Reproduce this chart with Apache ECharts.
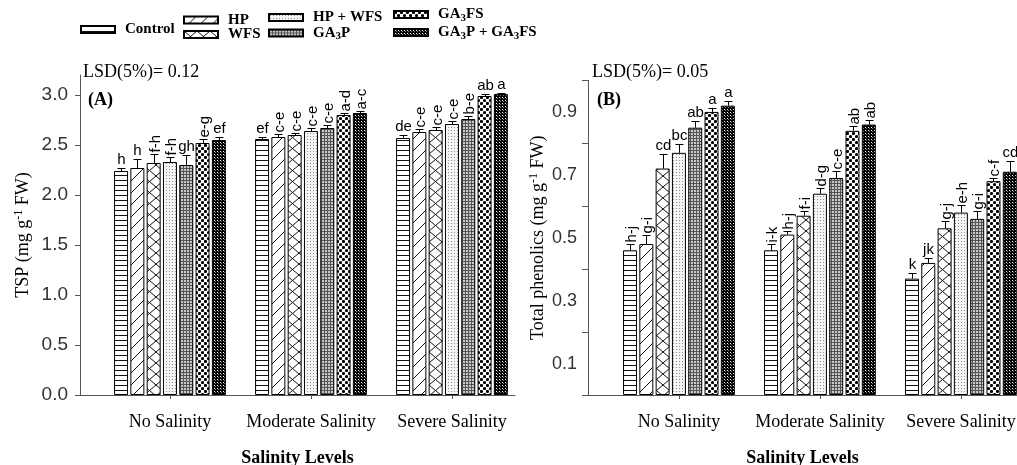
<!DOCTYPE html>
<html><head><meta charset="utf-8">
<script src="https://cdn.jsdelivr.net/npm/echarts@6/dist/echarts.min.js"></script>
<style>html,body{margin:0;padding:0;background:#fff}#c{width:1017px;height:465px}</style>
</head><body><div id="c"></div>
<script>
// ---------------- DATA ----------------
const categories = ['No Salinity', 'Moderate Salinity', 'Severe Salinity'];
const treatments = ['Control', 'HP', 'WFS', 'HP + WFS', 'GA3P', 'GA3FS', 'GA3P + GA3FS'];

// Panel A: TSP (mg g-1 FW); rows = treatments, columns = salinity levels
const tspMeans = [
  [2.24, 2.56, 2.57],
  [2.27, 2.58, 2.63],
  [2.32, 2.60, 2.65],
  [2.33, 2.64, 2.71],
  [2.30, 2.67, 2.76],
  [2.52, 2.80, 2.99],
  [2.55, 2.82, 3.01]
];
const tspErr = [
  [0.03, 0.02, 0.03],
  [0.09, 0.03, 0.03],
  [0.09, 0.02, 0.03],
  [0.05, 0.03, 0.03],
  [0.10, 0.03, 0.03],
  [0.04, 0.02, 0.02],
  [0.03, 0.02, 0.01]
];
const tspLetters = [
  ['h', 'ef', 'de'],
  ['h', 'c-e', 'c-e'],
  ['f-h', 'c-e', 'c-e'],
  ['f-h', 'c-e', 'c-e'],
  ['gh', 'c-e', 'b-e'],
  ['e-g', 'a-d', 'ab'],
  ['ef', 'a-c', 'a']
];

// Panel B: Total phenolics (mg g-1 FW)
const phenMeans = [
  [0.46, 0.46, 0.37],
  [0.48, 0.51, 0.42],
  [0.72, 0.57, 0.53],
  [0.77, 0.64, 0.58],
  [0.85, 0.69, 0.56],
  [0.90, 0.84, 0.68],
  [0.92, 0.86, 0.71]
];
const phenErr = [
  [0.02, 0.02, 0.017],
  [0.03, 0.012, 0.016],
  [0.045, 0.014, 0.023],
  [0.027, 0.018, 0.024],
  [0.021, 0.021, 0.024],
  [0.014, 0.015, 0.009],
  [0.014, 0.015, 0.035]
];
const phenLetters = [
  ['h-j', 'i-k', 'k'],
  ['g-i', 'h-j', 'jk'],
  ['cd', 'f-i', 'g-j'],
  ['bc', 'd-g', 'e-h'],
  ['ab', 'c-e', 'g-i'],
  ['a', 'ab', 'c-f'],
  ['a', 'ab', 'cd']
];

const tspTicks = [0, 0.5, 1.0, 1.5, 2.0, 2.5, 3.0];
const phenTicks = [0, 0.2, 0.4, 0.6, 0.8, 1.0];
const phenTickLabels = [0.1, 0.3, 0.5, 0.7, 0.9];

// ---------------- STYLE ----------------
const SERIF = "'Liberation Serif', 'Times New Roman', serif";
const SANS = "'Liberation Sans', Arial, sans-serif";
const BAR_W = 14, PITCH = 16.3, CAP = 4;
const vertical_extra = { 'B:1:5': true, 'B:1:6': true }; // panel:category:treatment labels drawn upright

function pattern(w, h, draw, bg) {
  const c = document.createElement('canvas');
  c.width = w; c.height = h;
  const g = c.getContext('2d');
  g.fillStyle = bg || '#fff'; g.fillRect(0, 0, w, h);
  draw(g, w, h);
  return { image: c, repeat: 'repeat' };
}
const fills = [
  pattern(4, 5, (g, w) => { g.fillStyle = '#111'; g.fillRect(0, 0, w, 1); }),
  pattern(12, 12, (g, w, h) => { g.strokeStyle = '#111'; g.lineWidth = 1;
    g.beginPath(); g.moveTo(-1, h + 1); g.lineTo(w + 1, -1); g.moveTo(-1, 1); g.lineTo(1, -1); g.moveTo(w - 1, h + 1); g.lineTo(w + 1, h - 1); g.stroke(); }),
  pattern(13, 11, (g, w, h) => { g.strokeStyle = '#111'; g.lineWidth = 1;
    g.beginPath(); g.moveTo(0, 0); g.lineTo(w, h); g.moveTo(w, 0); g.lineTo(0, h); g.stroke(); }),
  pattern(3, 3, (g) => { g.fillStyle = '#8a8a8a'; g.fillRect(1, 1, 1, 1); }, '#f4f4f4'),
  pattern(3, 3, (g) => { g.fillStyle = '#555'; g.fillRect(0, 0, 3, 1); g.fillRect(0, 0, 1, 3); }, '#c8c8c8'),
  pattern(6, 6, (g) => { g.fillStyle = '#000'; g.beginPath(); g.arc(1.5, 1.5, 1.6, 0, Math.PI * 2); g.arc(4.5, 4.5, 1.6, 0, Math.PI * 2); g.fill(); }),
  pattern(3, 3, (g) => { g.fillStyle = '#000'; g.fillRect(0, 0, 3, 3); g.fillStyle = '#fff'; g.fillRect(1, 1, 1, 1); g.fillStyle = '#777'; g.fillRect(2, 2, 1, 1); })
];

function richName(name) {
  return name.split('GA3').map((p, i) => (i ? '{n|GA}{s|3}' : '') + (p ? '{n|' + p + '}' : '')).join('');
}

function barSeries(means, gi) {
  return treatments.map((t, s) => ({
    name: t, type: 'bar', xAxisIndex: gi, yAxisIndex: gi,
    barWidth: BAR_W, barGap: ((PITCH - BAR_W) / BAR_W * 100) + '%',
    itemStyle: { color: fills[s], borderColor: '#000', borderWidth: 1 },
    data: categories.map((c, i) => [i + 1, means[s][i]]),
    animation: false
  }));
}

function errSeries(means, errs, letters, gi, key) {
  const data = [], labs = [];
  treatments.forEach((t, s) => categories.forEach((c, i) => {
    data.push([i + 1, means[s][i], errs[s][i], s, i]);
    labs.push(letters[s][i]);
  }));
  return {
    type: 'custom', xAxisIndex: gi, yAxisIndex: gi, z: 10, silent: true, animation: false,
    data,
    renderItem(params, api) {
      const x = api.value(0), m = api.value(1), e = api.value(2), s = api.value(3), i = api.value(4);
      const lab = labs[params.dataIndex];
      const b = api.coord([x, m]), t = api.coord([x, m + e]);
      const cx = Math.round(b[0] + (s - 3) * PITCH) + 0.5;
      const ty = Math.round(t[1]) + 0.5;
      const ch = [
        { type: 'line', shape: { x1: cx, y1: b[1], x2: cx, y2: ty }, style: { stroke: '#000', lineWidth: 1 } },
        { type: 'line', shape: { x1: cx - CAP, y1: ty, x2: cx + CAP, y2: ty }, style: { stroke: '#000', lineWidth: 1 } }
      ];
      const vert = lab.indexOf('-') >= 0 || vertical_extra[key + ':' + i + ':' + s];
      if (vert) {
        ch.push({ type: 'text', x: cx + 1, y: ty - 2, rotation: Math.PI / 2,
          style: { text: lab, align: 'left', verticalAlign: 'middle', fontFamily: SANS, fontSize: 15, fill: '#000' } });
      } else {
        ch.push({ type: 'text', x: cx, y: ty - 1,
          style: { text: lab, align: 'center', verticalAlign: 'bottom', fontFamily: SANS, fontSize: 15, fill: '#000' } });
      }
      return { type: 'group', children: ch };
    }
  };
}

const axisGray = '#555';
function xAx(gi, min, max) {
  return {
    gridIndex: gi, type: 'value', min, max,
    axisLine: { show: true, onZero: false, lineStyle: { color: axisGray, width: 1 } },
    splitLine: { show: false },
    axisTick: { show: true, customValues: [1, 2, 3], length: 4, lineStyle: { color: axisGray } },
    axisLabel: { customValues: [1, 2, 3], formatter: v => categories[Math.round(v) - 1] || '',
      fontFamily: SERIF, fontSize: 18, color: '#000', margin: 18 },
    name: 'Salinity Levels', nameLocation: 'middle', nameGap: 54,
    nameTextStyle: { fontFamily: SERIF, fontSize: 18, fontWeight: 'bold', color: '#000' }
  };
}
const nameRich = {
  t: { fontFamily: SERIF, fontSize: 18, color: '#000' },
  sup: { fontFamily: SERIF, fontSize: 12, color: '#000', verticalAlign: 'top', padding: [0, 0, 8, 0] }
};

const legendRich = {
  n: { fontFamily: SERIF, fontSize: 15, fontWeight: 'bold', color: '#000', lineHeight: 18 },
  s: { fontFamily: SERIF, fontSize: 11, fontWeight: 'bold', color: '#000', verticalAlign: 'bottom', lineHeight: 14, padding: [6, 0, 0, 0] }
};
const legendPos = [[80, 22], [183, 12.5], [183, 27], [268, 10], [268, 25], [393, 6.5], [393, 24.5]];
const legends = treatments.map((t, s) => ({
  data: [t], left: legendPos[s][0], top: legendPos[s][1], padding: 0,
  itemWidth: 34, itemHeight: 7, icon: 'rect', selectedMode: false,
  formatter: n => richName(n),
  textStyle: { rich: legendRich, padding: [0, 0, 0, 5] }
}));

const option = {
  backgroundColor: '#fff',
  animation: false,
  legend: legends,
  grid: [
    { left: 80, top: 75, width: 435, height: 320, containLabel: false, outerBoundsMode: 'none' },
    { left: 588, top: 80.5, width: 429, height: 314.5, containLabel: false, outerBoundsMode: 'none' }
  ],
  xAxis: [xAx(0, 0.362, 3.447), xAx(1, 0.355, 3.398)],
  yAxis: [
    { gridIndex: 0, type: 'value', min: 0, max: 3.2,
      axisLine: { show: true, onZero: false, lineStyle: { color: axisGray } },
      splitLine: { show: false },
      axisTick: { show: true, customValues: tspTicks, length: 5, lineStyle: { color: axisGray } },
      axisLabel: { customValues: tspTicks, formatter: v => v.toFixed(1), fontFamily: SANS, fontSize: 19, color: '#333', margin: 12 },
      name: '{t|TSP (mg g}{sup|-1}{t| FW)}', nameLocation: 'middle', nameGap: 47, nameTextStyle: { rich: nameRich } },
    { gridIndex: 1, type: 'value', min: 0, max: 1.0,
      axisLine: { show: true, onZero: false, lineStyle: { color: axisGray } },
      splitLine: { show: false },
      axisTick: { show: true, customValues: phenTicks, length: 6, lineStyle: { color: axisGray } },
      axisLabel: { customValues: phenTickLabels, formatter: v => v.toFixed(1), fontFamily: SANS, fontSize: 18, color: '#333', margin: 11 },
      name: '{t|Total phenolics (mg g}{sup|-1}{t| FW)}', nameLocation: 'middle', nameGap: 40, nameTextStyle: { rich: nameRich } }
  ],
  graphic: [
    { type: 'text', left: 83, top: 63, style: { text: 'LSD(5%)= 0.12', fontFamily: SERIF, fontSize: 18, fill: '#000' } },
    { type: 'text', left: 88, top: 91, style: { text: '(A)', fontFamily: SERIF, fontSize: 18, fontWeight: 'bold', fill: '#000' } },
    { type: 'text', left: 592, top: 63, style: { text: 'LSD(5%)= 0.05', fontFamily: SERIF, fontSize: 18, fill: '#000' } },
    { type: 'text', left: 597, top: 91, style: { text: '(B)', fontFamily: SERIF, fontSize: 18, fontWeight: 'bold', fill: '#000' } }
  ],
  series: [].concat(
    barSeries(tspMeans, 0),
    barSeries(phenMeans, 1),
    [errSeries(tspMeans, tspErr, tspLetters, 0, 'A'), errSeries(phenMeans, phenErr, phenLetters, 1, 'B')]
  )
};
const chart = echarts.init(document.getElementById('c'), null, { renderer: 'canvas' });
chart.setOption(option);
</script>
</body></html>
